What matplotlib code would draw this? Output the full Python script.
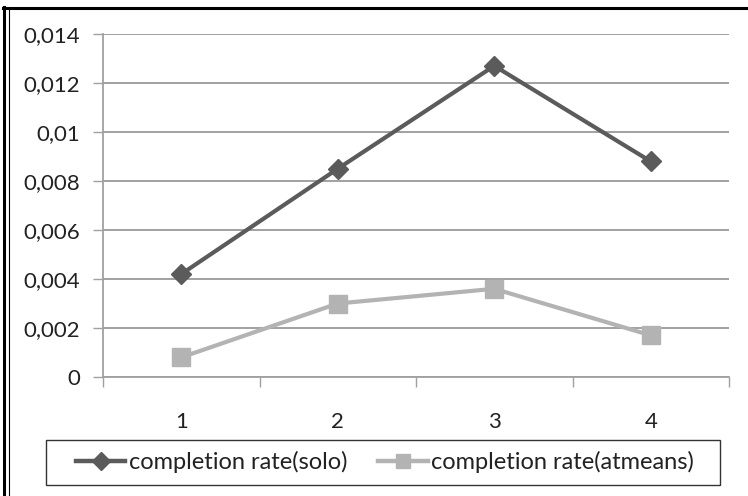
import matplotlib
matplotlib.use("Agg")
import matplotlib.pyplot as plt
from matplotlib.lines import Line2D
from matplotlib.patches import Rectangle
from matplotlib.ticker import FixedLocator

categories = ["1", "2", "3", "4"]
solo = [0.0042, 0.0085, 0.0127, 0.0088]
atmeans = [0.0008, 0.0030, 0.0036, 0.0017]
yticks = [0, 0.002, 0.004, 0.006, 0.008, 0.01, 0.012, 0.014]
ytick_labels = ["0", "0,002", "0,004", "0,006", "0,008", "0,01", "0,012", "0,014"]
series_names = ["completion rate(solo)", "completion rate(atmeans)"]

plt.rcParams['font.family'] = ['Lato', 'DejaVu Sans']

W, H = 748, 496
fig = plt.figure(figsize=(W / 100, H / 100), dpi=100)

def fx(px):
    return px / W

def fy(py):
    return 1 - py / H

ax = fig.add_axes([fx(103), fy(377), fx(729) - fx(103), fy(34) - fy(377)])

x = list(range(1, len(categories) + 1))
dark = "#5b5b5b"
light = "#b3b3b3"
ax.plot(x, solo, color=dark, lw=3.0, marker="D", ms=10, mec=dark, mfc=dark, zorder=4)
ax.plot(x, atmeans, color=light, lw=3.0, marker="s", ms=13, mec=light, mfc=light, zorder=3)

ax.set_xlim(0.5, len(categories) + 0.5)
ax.set_ylim(0, 0.014)
ax.set_yticks(yticks)
ax.set_yticklabels(ytick_labels)
ax.yaxis.grid(True, color="#9a9a9a", lw=1.3)
ax.set_axisbelow(True)

ax.set_xticks(x)
ax.set_xticklabels(categories)
ax.xaxis.set_minor_locator(FixedLocator([i + 0.5 for i in range(0, len(categories) + 1)]))
ax.tick_params(axis="x", which="major", length=0, pad=25, labelsize=16, labelcolor="#222222")
ax.tick_params(axis="x", which="minor", length=7.5, width=1.0, color="#a0a0a0", direction="out")
ax.tick_params(axis="y", which="major", length=7.5, width=1.0, color="#a0a0a0", pad=9,
               labelsize=16, labelcolor="#222222", direction="out")

for s in ["top", "right"]:
    ax.spines[s].set_visible(False)
for s in ["left", "bottom"]:
    ax.spines[s].set_color("#a0a0a0")
    ax.spines[s].set_linewidth(1.3)

handles = [
    Line2D([0], [0], color=dark, lw=3.2, marker="D", ms=9, mec=dark, mfc=dark),
    Line2D([0], [0], color=light, lw=3.2, marker="s", ms=10, mec=light, mfc=light),
]
leg = fig.legend(handles, series_names, loc="center",
                 bbox_to_anchor=(fx(385), fy(462)),
                 ncol=2, frameon=False, fontsize=17, handlelength=2.1,
                 handletextpad=0.15, columnspacing=1.3, borderpad=0.2)
for t in leg.get_texts():
    t.set_color("#222222")

fig.add_artist(Rectangle((fx(46), fy(485)), fx(720) - fx(46), fy(440) - fy(485),
                         transform=fig.transFigure, fill=False, edgecolor="#333333", lw=1.0))

# outer frame of the figure
fig.add_artist(Line2D([fx(3), fx(748)], [fy(8), fy(8)], color="black", lw=2.2))
fig.add_artist(Line2D([fx(4), fx(4)], [fy(7), fy(496)], color="black", lw=2.2))
fig.add_artist(Line2D([fx(8.5), fx(8.5)], [fy(9), fy(496)], color="black", lw=0.8))

fig.savefig("out.png", dpi=100)
